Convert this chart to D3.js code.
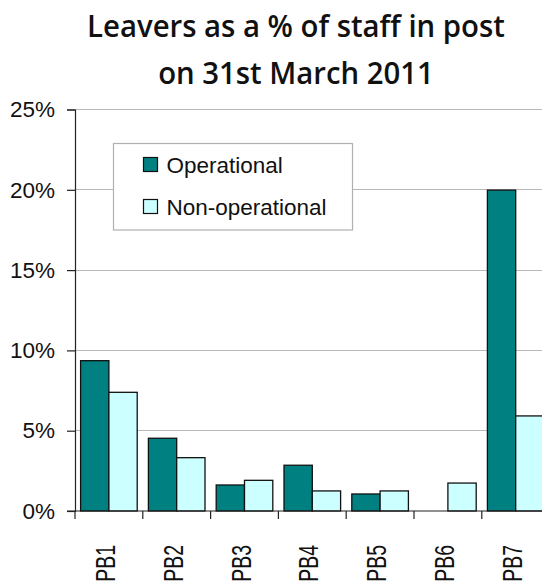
<!DOCTYPE html>
<html>
<head>
<meta charset="utf-8">
<script src="https://cdn.jsdelivr.net/npm/d3@7"></script>
<style>
  html, body { margin: 0; padding: 0; background: #ffffff; }
  svg { display: block; }
</style>
</head>
<body>
<svg id="chart" width="542" height="583"></svg>
<script>
// Leavers as a percentage of staff in post, by pay band
const categories = ["PB1", "PB2", "PB3", "PB4", "PB5", "PB6", "PB7"];
const operational = [9.36, 4.53, 1.62, 2.85, 1.06, 0, 19.98];
const nonOperational = [7.39, 3.32, 1.91, 1.25, 1.25, 1.74, 5.92];
const seriesNames = ["Operational", "Non-operational"];
const seriesColors = ["#008080", "#ccffff"];
const yTicks = [0, 5, 10, 15, 20, 25];
const titleLines = ["Leavers as a % of staff in post", "on 31st March 2011"];

const svg = d3.select("#chart");
const labelFont = "'Liberation Sans', Arial, sans-serif";

// plot frame
const x0 = 75, step = 67.8;
const yBottom = 511, yTop = 109.5;

const x = d3.scaleBand()
  .domain(categories)
  .range([x0, x0 + step * categories.length])
  .paddingInner(0.165)
  .paddingOuter(0.0825);

const xSeries = d3.scaleBand()
  .domain(seriesNames)
  .range([0, x.bandwidth()]);

const y = d3.scaleLinear().domain([0, 25]).range([yBottom, yTop]);

// horizontal gridlines
svg.append("g")
  .selectAll("line")
  .data(yTicks.filter(t => t > 0))
  .join("line")
  .attr("x1", x0).attr("x2", 560)
  .attr("y1", d => y(d)).attr("y2", d => y(d))
  .attr("stroke", "#b8b8b8")
  .attr("stroke-width", 1)
  .attr("shape-rendering", "crispEdges");

// bars
const rows = categories.map((c, i) => ({
  cat: c,
  values: [
    { series: seriesNames[0], value: operational[i], color: seriesColors[0] },
    { series: seriesNames[1], value: nonOperational[i], color: seriesColors[1] }
  ]
}));

svg.append("g")
  .selectAll("g")
  .data(rows)
  .join("g")
  .attr("transform", d => `translate(${x(d.cat)},0)`)
  .selectAll("rect")
  .data(d => d.values.filter(v => v.value > 0))
  .join("rect")
  .attr("x", d => xSeries(d.series))
  .attr("width", xSeries.bandwidth())
  .attr("y", d => y(d.value))
  .attr("height", d => y(0) - y(d.value))
  .attr("fill", d => d.color)
  .attr("stroke", "#111")
  .attr("stroke-width", 1.3);

// y axis
const yAxis = d3.axisLeft(y)
  .tickValues(yTicks)
  .tickSize(8)
  .tickPadding(12)
  .tickFormat(d => d + "%");

const gy = svg.append("g")
  .attr("transform", `translate(${x0},0)`)
  .call(yAxis);
gy.select(".domain").attr("stroke", "#222").attr("stroke-width", 1.2);
gy.selectAll(".tick line").attr("stroke", "#222").attr("stroke-width", 1.2);
gy.selectAll(".tick text")
  .attr("font-family", labelFont)
  .attr("font-size", 22.5)
  .attr("fill", "#111");

// x axis with ticks at category boundaries
const gx = svg.append("g")
  .attr("transform", `translate(0,${yBottom})`);
gx.append("line")
  .attr("x1", x0 - 8).attr("x2", 560)
  .attr("y1", 0).attr("y2", 0)
  .attr("stroke", "#222").attr("stroke-width", 1.2);
gx.selectAll("line.bound")
  .data(categories)
  .join("line")
  .attr("class", "bound")
  .attr("x1", d => x(d) - x.step() * x.paddingInner() / 2)
  .attr("x2", d => x(d) - x.step() * x.paddingInner() / 2)
  .attr("y1", 0).attr("y2", 8)
  .attr("stroke", "#222").attr("stroke-width", 1.2);
// vertical category labels, set in a wide, short face
gx.selectAll("text")
  .data(categories)
  .join("text")
  .attr("transform", d => `translate(${x(d) + x.bandwidth() / 2 + 6},34) rotate(-90) scale(0.95,1.32)`)
  .attr("text-anchor", "end")
  .attr("font-family", labelFont)
  .attr("font-size", 20.5)
  .attr("fill", "#111")
  .text(d => d);

// legend
const legend = svg.append("g").attr("transform", "translate(113.5,143.5)");
legend.append("rect")
  .attr("width", 239).attr("height", 86.5)
  .attr("fill", "#fff")
  .attr("stroke", "#b0b0b0")
  .attr("stroke-width", 1.2);
const items = legend.selectAll("g.item")
  .data(seriesNames)
  .join("g")
  .attr("class", "item")
  .attr("transform", (d, i) => `translate(30,${21 + i * 42})`);
items.append("rect")
  .attr("width", 14).attr("height", 14)
  .attr("y", -7)
  .attr("fill", (d, i) => seriesColors[i])
  .attr("stroke", "#111")
  .attr("stroke-width", 1.2);
items.append("text")
  .attr("x", 23)
  .attr("y", 8)
  .attr("font-family", labelFont)
  .attr("font-size", 22.5)
  .attr("fill", "#111")
  .text(d => d);

// title: two centred lines, narrowed so the first line spans 418px
const titleSize = 30;
const titleBaselines = [37, 83.5];
const title = svg.append("g");
const titleTexts = title.selectAll("text")
  .data(titleLines)
  .join("text")
  .attr("x", 0)
  .attr("y", 0)
  .attr("text-anchor", "middle")
  .attr("font-family", "'Open Sans', 'Noto Sans', sans-serif")
  .attr("font-weight", 600)
  .attr("font-size", titleSize)
  .attr("fill", "#111")
  .text(d => d);
const squeeze = 418 / titleTexts.node().getComputedTextLength();
titleTexts.attr("transform", (d, i) => `translate(296,${titleBaselines[i]}) scale(${squeeze},1)`);
</script>
</body>
</html>
